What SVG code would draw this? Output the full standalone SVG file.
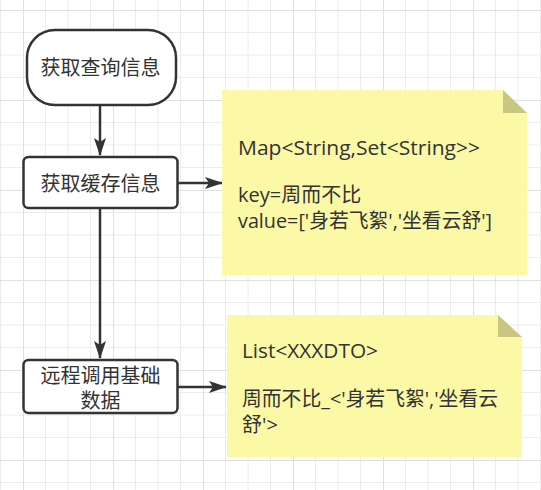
<svg xmlns="http://www.w3.org/2000/svg" width="541" height="490" viewBox="0 0 541 490">
<style>
.t{font-family:"Open Sans","Noto Sans CJK SC",sans-serif;font-size:20px;fill:#333333}
.c{text-anchor:middle}
.node{fill:#ffffff;stroke:#333333;stroke-width:2.5}
.note{fill:#fbf8a6}
.fold{fill:#c9c583}
.edge{fill:none;stroke:#333333;stroke-width:2.5;marker-end:url(#arr)}
</style>
<defs>
<pattern id="grid" x="23" y="10" width="90" height="90" patternUnits="userSpaceOnUse">
<path d="M22.5,0V90M45,0V90M67.5,0V90M0,22.5H90M0,45H90M0,67.5H90" stroke="#ececec" stroke-width="1" fill="none"/>
<path d="M0.5,0V90M0,0.5H90" stroke="#e0e0e0" stroke-width="1" fill="none"/>
</pattern>
<marker id="arr" viewBox="0 0 18 12" markerWidth="18" markerHeight="12" refX="17" refY="6" orient="auto" markerUnits="userSpaceOnUse">
<path d="M0,0 L18,6 L0,12 L4,6 Z" fill="#333333"/>
</marker>
</defs>
<rect width="541" height="490" fill="#ffffff"/>
<rect width="541" height="490" fill="url(#grid)"/>

<g id="edges">
<path class="edge" d="M100,105 V155"/>
<path class="edge" d="M178,183 H222"/>
<path class="edge" d="M100,208 V358"/>
<path class="edge" d="M178,387 H226"/>
</g>

<g id="start">
<rect class="node" x="27" y="30" width="149" height="75" rx="28" ry="28"/>
<text class="t c" x="100.5" y="75">获取查询信息</text>
</g>

<g id="cache">
<rect class="node" x="23.5" y="157" width="154" height="51" rx="5" ry="5"/>
<text class="t c" x="100.5" y="191">获取缓存信息</text>
</g>

<g id="remote">
<rect class="node" x="23.5" y="360" width="154" height="53" rx="5" ry="5"/>
<text class="t c" x="100.5" y="383">远程调用基础<tspan x="100.5" dy="25">数据</tspan></text>
</g>

<g id="note1">
<path class="note" d="M222,90 H503 L527,113 V275 H222 Z"/>
<path class="fold" d="M503,90 L527,113 H503 Z"/>
<text class="t" x="238" y="155"><tspan x="238" y="155" textLength="242" lengthAdjust="spacingAndGlyphs">Map&lt;String,Set&lt;String&gt;&gt;</tspan><tspan x="238" y="201.5">key=周而不比</tspan><tspan x="238" y="227.5" textLength="254" lengthAdjust="spacingAndGlyphs">value=['身若飞絮','坐看云舒']</tspan></text>
</g>

<g id="note2">
<path class="note" d="M227,315 H498 L522,337 V457 H227 Z"/>
<path class="fold" d="M498,315 L522,337 H498 Z"/>
<text class="t" x="242" y="358"><tspan x="242" y="358" textLength="136" lengthAdjust="spacingAndGlyphs">List&lt;XXXDTO&gt;</tspan><tspan x="242" y="405.5" textLength="256" lengthAdjust="spacingAndGlyphs">周而不比_&lt;'身若飞絮','坐看云</tspan><tspan x="242" y="431.5">舒'&gt;</tspan></text>
</g>
</svg>
